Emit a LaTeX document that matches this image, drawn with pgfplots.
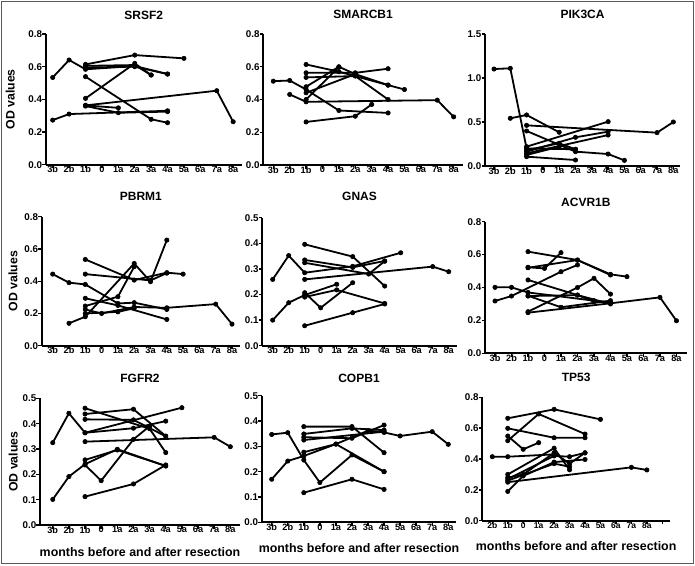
\documentclass[border=0pt]{standalone}
\usepackage{pgfplots}
\pgfplotsset{compat=1.18}
\usepackage{fontspec}
\setmainfont{Liberation Sans}

\pgfplotsset{
  pl/.style={black, solid, line width=1.8pt, line join=round, mark=*, mark size=2.2pt,
    mark options={solid, fill=black, line width=0.6pt}},
  gp/.style={
    scale only axis, anchor=south west,
    axis x line=bottom, axis y line=left,
    axis line style={-, line width=1.8pt, black},
    ymin=0, clip=false,
    tick align=outside, major tick length=3.5pt,
    every tick/.style={black, line width=1.4pt},
    xtick={0,...,11},
    xticklabels={3b,2b,1b,0,1a,2a,3a,4a,5a,6a,7a,8a},
    xticklabel style={font=\bfseries\fontsize{9.2}{9.2}\selectfont, anchor=north, inner sep=0pt, yshift=2.2pt},
    yticklabel style={font=\bfseries\fontsize{9.8}{9.8}\selectfont, anchor=east, inner sep=0pt,
      /pgf/number format/.cd, fixed, fixed zerofill, precision=1, assume math mode=true},
    every axis title/.style={font=\bfseries\fontsize{12}{12}\selectfont, at={(0.5,1)}, anchor=base},
    every axis y label/.style={font=\bfseries\fontsize{12.3}{12.3}\selectfont, rotate=90, anchor=south, inner sep=0pt},
    every axis x label/.style={font=\bfseries\fontsize{12.4}{12.4}\selectfont, at={(axis description cs:0.5,0)}, anchor=base, inner sep=0pt},
  },
}

\begin{document}
\begin{tikzpicture}
\useasboundingbox (0pt,0pt) rectangle (695pt,-565pt);
\draw[line width=1.2pt, black!65] (1.5pt,-1.5pt) rectangle (693.5pt,-563.5pt);

% SRSF2
\begin{axis}[gp, at={(45.7pt,-164.7pt)}, width=196pt, height=130.7pt,
  xmin=-0.427, xmax=11.52, ymax=0.8, ytick={0,0.2,0.4,0.6,0.8},
  title={SRSF2}, title style={yshift=14.7pt},
  ylabel={OD values}, ylabel style={at={(axis description cs:-0.157,0.5)}}]
\addplot[pl] coordinates {(0,0.534)(1,0.641)(2,0.584)(5,0.604)(7,0.555)};
\addplot[pl] coordinates {(2,0.614)(5,0.671)(8,0.651)};
\addplot[pl] coordinates {(2,0.605)(5,0.610)(6,0.549)};
\addplot[pl] coordinates {(2,0.595)(5,0.600)(7,0.555)};
\addplot[pl] coordinates {(2,0.539)(6,0.278)(7,0.257)};
\addplot[pl] coordinates {(2,0.406)(5,0.620)(6,0.549)};
\addplot[pl] coordinates {(2,0.363)(10,0.453)(11,0.263)};
\addplot[pl] coordinates {(0,0.273)(1,0.310)(7,0.330)};
\addplot[pl] coordinates {(2,0.359)(4,0.318)(7,0.325)};
\addplot[pl] coordinates {(2,0.363)(4,0.348)};
\end{axis}

% SMARCB1
\begin{axis}[gp, at={(263.3pt,-165pt)}, width=199.7pt, height=131pt,
  xmin=-0.61, xmax=11.57, ymax=0.8, ytick={0,0.2,0.4,0.6,0.8},
  title={SMARCB1}, title style={yshift=15.7pt}]
\addplot[pl] coordinates {(0,0.512)(1,0.516)(2,0.461)(4,0.333)(7,0.318)};
\addplot[pl] coordinates {(1,0.431)(2,0.386)(10,0.396)(11,0.294)};
\addplot[pl] coordinates {(2,0.263)(5,0.298)(6,0.37)};
\addplot[pl] coordinates {(2,0.614)(4,0.57)(7,0.488)(8,0.461)};
\addplot[pl] coordinates {(2,0.563)(5,0.563)(7,0.588)};
\addplot[pl] coordinates {(2,0.535)(5,0.543)(7,0.40)};
\addplot[pl] coordinates {(2,0.478)(4,0.60)(5,0.555)(7,0.488)};
\addplot[pl] coordinates {(2,0.441)(5,0.555)};
\addplot[pl] coordinates {(2,0.40)(4,0.598)};
\end{axis}

% PIK3CA
\begin{axis}[gp, at={(485pt,-166pt)}, width=195pt, height=132pt,
  xmin=-0.552, xmax=11.41, ymax=1.5, ytick={0,0.5,1.0,1.5},
  title={PIK3CA}, title style={yshift=15.7pt}]
\addplot[pl] coordinates {(0,1.102)(1,1.11)(2,0.20)(5,0.19)};
\addplot[pl] coordinates {(1,0.542)(2,0.58)(4,0.383)};
\addplot[pl] coordinates {(2,0.462)(10,0.379)(11,0.50)};
\addplot[pl] coordinates {(2,0.398)(5,0.163)(7,0.136)(8,0.064)};
\addplot[pl] coordinates {(2,0.106)(5,0.068)};
\addplot[pl] coordinates {(2,0.22)(7,0.504)};
\addplot[pl] coordinates {(2,0.163)(5,0.326)(7,0.39)};
\addplot[pl] coordinates {(2,0.144)(7,0.352)};
\addplot[pl] coordinates {(2,0.18)(4,0.258)(5,0.19)};
\addplot[pl] coordinates {(2,0.125)(4,0.22)};
\end{axis}

% PBRM1
\begin{axis}[gp, at={(41.7pt,-345.7pt)}, width=198.3pt, height=129pt,
  xmin=-0.675, xmax=11.49, ymax=0.8, ytick={0,0.2,0.4,0.6,0.8},
  title={PBRM1}, title style={yshift=16pt},
  ylabel={OD values}, ylabel style={at={(axis description cs:-0.121,0.5)}}]
\addplot[pl] coordinates {(0,0.444)(1,0.391)(2,0.380)(4,0.262)(5,0.267)(7,0.225)};
\addplot[pl] coordinates {(1,0.139)(2,0.18)(5,0.51)(6,0.397)(7,0.655)};
\addplot[pl] coordinates {(2,0.535)(5,0.407)(7,0.453)(8,0.444)};
\addplot[pl] coordinates {(2,0.444)(6,0.405)(7,0.45)};
\addplot[pl] coordinates {(2,0.294)(4,0.25)(7,0.163)};
\addplot[pl] coordinates {(2,0.246)(4,0.304)(5,0.49)};
\addplot[pl] coordinates {(2,0.225)(3,0.20)(5,0.24)(7,0.235)(10,0.258)(11,0.134)};
\addplot[pl] coordinates {(2,0.20)(4,0.21)(5,0.232)};
\end{axis}

% GNAS
\begin{axis}[gp, at={(262.3pt,-345.7pt)}, width=194.4pt, height=128pt,
  xmin=-0.65, xmax=11.5, ymax=0.5, ytick={0,0.1,0.2,0.3,0.4,0.5},
  title={GNAS}, title style={yshift=17pt}]
\addplot[pl] coordinates {(0,0.259)(1,0.352)(2,0.285)(5,0.31)(8,0.363)};
\addplot[pl] coordinates {(0,0.10)(1,0.168)(2,0.198)(4,0.24)};
\addplot[pl] coordinates {(2,0.396)(5,0.348)(7,0.233)};
\addplot[pl] coordinates {(2,0.335)(5,0.306)(7,0.331)};
\addplot[pl] coordinates {(2,0.324)(6,0.28)(7,0.33)};
\addplot[pl] coordinates {(2,0.259)(10,0.309)(11,0.289)};
\addplot[pl] coordinates {(2,0.207)(3,0.148)(5,0.246)};
\addplot[pl] coordinates {(2,0.19)(4,0.218)(7,0.165)};
\addplot[pl] coordinates {(2,0.078)(5,0.129)(7,0.163)};
\end{axis}

% ACVR1B
\begin{axis}[gp, at={(485pt,-353.3pt)}, width=201.7pt, height=131.6pt,
  xmin=-0.606, xmax=11.62, ymax=0.8, ytick={0,0.2,0.4,0.6,0.8},
  title={ACVR1B}, title style={yshift=15.7pt}]
\addplot[pl] coordinates {(0,0.401)(1,0.401)(2,0.37)(6,0.32)(7,0.31)};
\addplot[pl] coordinates {(0,0.318)(1,0.348)(4,0.496)(5,0.537)};
\addplot[pl] coordinates {(2,0.618)(5,0.567)(7,0.48)(8,0.466)};
\addplot[pl] coordinates {(2,0.523)(3,0.516)(4,0.612)};
\addplot[pl] coordinates {(2,0.52)(5,0.567)(7,0.476)};
\addplot[pl] coordinates {(2,0.446)(5,0.354)(6,0.314)(7,0.314)};
\addplot[pl] coordinates {(2,0.348)(5,0.354)(7,0.30)};
\addplot[pl] coordinates {(2,0.253)(5,0.40)(6,0.456)(7,0.36)};
\addplot[pl] coordinates {(2,0.247)(7,0.304)(10,0.34)(11,0.198)};
\addplot[pl] coordinates {(2,0.35)(4,0.28)(7,0.32)};
\end{axis}

% FGFR2
\begin{axis}[gp, at={(40pt,-525pt)}, width=200pt, height=126.7pt,
  xmin=-0.79, xmax=11.6, ymax=0.5, ytick={0,0.1,0.2,0.3,0.4,0.5},
  title={FGFR2}, title style={yshift=15.6pt},
  ylabel={OD values}, ylabel style={at={(axis description cs:-0.11,0.5)}},
  xlabel={months before and after resection}, xlabel style={yshift=-31.7pt}]
\addplot[pl] coordinates {(0,0.325)(1,0.441)(2,0.364)(5,0.382)(7,0.41)};
\addplot[pl] coordinates {(0,0.101)(1,0.191)(2,0.24)(4,0.299)(7,0.233)};
\addplot[pl] coordinates {(2,0.461)(6,0.38)(7,0.286)};
\addplot[pl] coordinates {(2,0.438)(5,0.457)(7,0.351)};
\addplot[pl] coordinates {(2,0.417)(5,0.415)(7,0.35)};
\addplot[pl] coordinates {(2,0.364)(8,0.463)};
\addplot[pl] coordinates {(2,0.329)(10,0.346)(11,0.309)};
\addplot[pl] coordinates {(2,0.257)(4,0.296)(7,0.233)};
\addplot[pl] coordinates {(2,0.237)(3,0.175)(5,0.338)(6,0.39)};
\addplot[pl] coordinates {(2,0.112)(5,0.162)(7,0.237)};
\end{axis}

% COPB1
\begin{axis}[gp, at={(261.7pt,-522.3pt)}, width=194.6pt, height=126.6pt,
  xmin=-0.623, xmax=11.5, ymax=0.5, ytick={0,0.1,0.2,0.3,0.4,0.5},
  title={COPB1}, title style={yshift=13pt},
  xlabel={months before and after resection}, xlabel style={yshift=-30.4pt}]
\addplot[pl] coordinates {(0,0.347)(1,0.354)(2,0.246)(3,0.157)(5,0.266)(7,0.20)};
\addplot[pl] coordinates {(0,0.17)(1,0.242)(2,0.262)(4,0.309)(6,0.362)(7,0.355)(8,0.341)(10,0.358)(11,0.308)};
\addplot[pl] coordinates {(2,0.378)(5,0.378)(7,0.275)};
\addplot[pl] coordinates {(2,0.349)(5,0.371)(7,0.364)};
\addplot[pl] coordinates {(2,0.336)(5,0.332)(7,0.384)};
\addplot[pl] coordinates {(2,0.325)(7,0.358)};
\addplot[pl] coordinates {(2,0.277)(4,0.309)(7,0.20)};
\addplot[pl] coordinates {(2,0.117)(5,0.17)(7,0.13)};
\end{axis}

% TP53
\begin{axis}[gp, at={(482.3pt,-520.7pt)}, width=187.7pt, height=123.4pt,
  xmin=-0.648, xmax=11.5, ymax=0.8, ytick={0,0.2,0.4,0.6,0.8},
  xticklabels={2b,1b,0,1a,2a,3a,4a,5a,6a,7a,8a,{}},
  xticklabel style={font=\bfseries\fontsize{8.5}{8.5}\selectfont},
  title={TP53}, title style={yshift=15.6pt},
  xlabel={months before and after resection}, xlabel style={yshift=-29.3pt}]
\addplot[pl] coordinates {(0,0.415)(1,0.415)(4,0.43)};
\addplot[pl] coordinates {(1,0.664)(4,0.722)(7,0.657)};
\addplot[pl] coordinates {(1,0.599)(4,0.538)(6,0.538)};
\addplot[pl] coordinates {(1,0.549)(2,0.463)(3,0.506)};
\addplot[pl] coordinates {(1,0.519)(3,0.692)(6,0.562)};
\addplot[pl] coordinates {(1,0.30)(4,0.47)(5,0.33)};
\addplot[pl] coordinates {(1,0.28)(2,0.30)(4,0.44)(5,0.37)(6,0.44)};
\addplot[pl] coordinates {(1,0.27)(4,0.42)(5,0.415)(6,0.44)};
\addplot[pl] coordinates {(1,0.25)(9,0.346)(10,0.329)};
\addplot[pl] coordinates {(1,0.19)(2,0.29)(4,0.38)(6,0.397)};
\addplot[pl] coordinates {(1,0.26)(4,0.37)(5,0.35)};
\end{axis}
\end{tikzpicture}
\end{document}
